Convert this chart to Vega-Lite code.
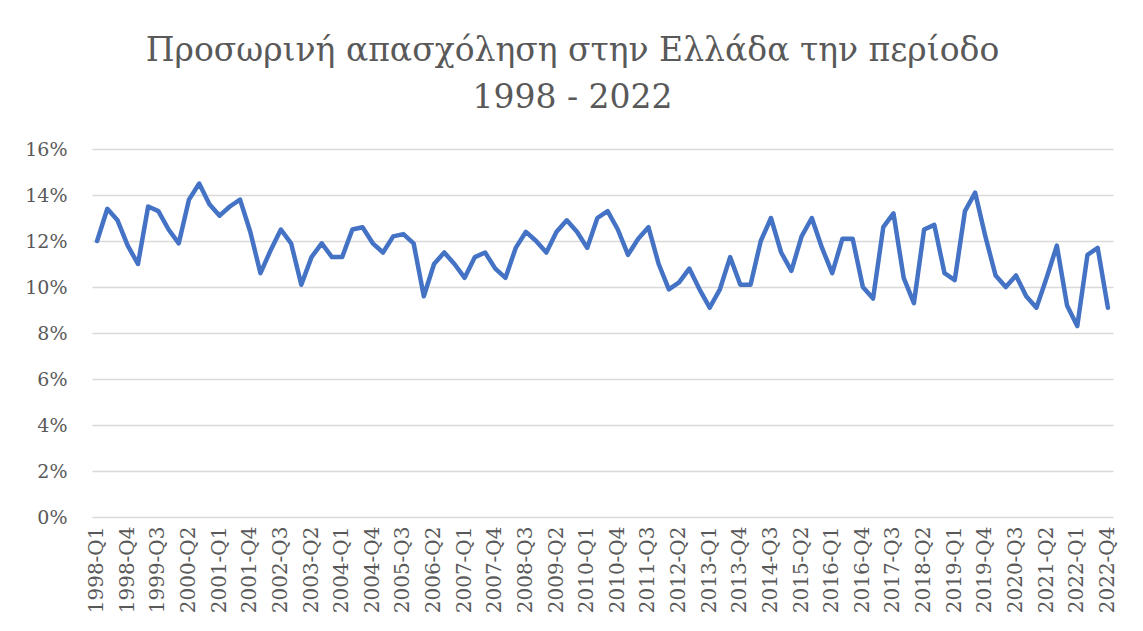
{
  "$schema": "https://vega.github.io/schema/vega-lite/v6.json",
  "width": 1021,
  "height": 368,
  "autosize": {"type": "none"},
  "padding": {"left": 92, "top": 149, "right": 30, "bottom": 114},
  "background": "white",
  "title": {
    "text": ["Προσωρινή απασχόληση στην Ελλάδα την περίοδο", "1998 - 2022"],
    "font": "DejaVu Serif",
    "fontSize": 33,
    "fontWeight": "normal",
    "color": "#595959",
    "lineHeight": 47,
    "anchor": "middle",
    "frame": "group",
    "dx": -30,
    "offset": 25
  },
  "config": {
    "view": {"stroke": null},
    "axis": {
      "labelFont": "DejaVu Serif",
      "labelColor": "#595959",
      "gridColor": "#d9d9d9",
      "gridWidth": 1.3,
      "domain": false,
      "ticks": false
    },
    "axisX": {"labelFontSize": 20, "labelLimit": 300}
  },
  "data": {
    "values": [
      {"q": "1998-Q1", "v": 0.120}, {"q": "1998-Q2", "v": 0.134}, {"q": "1998-Q3", "v": 0.129}, {"q": "1998-Q4", "v": 0.118},
      {"q": "1999-Q1", "v": 0.110}, {"q": "1999-Q2", "v": 0.135}, {"q": "1999-Q3", "v": 0.133}, {"q": "1999-Q4", "v": 0.125},
      {"q": "2000-Q1", "v": 0.119}, {"q": "2000-Q2", "v": 0.138}, {"q": "2000-Q3", "v": 0.145}, {"q": "2000-Q4", "v": 0.136},
      {"q": "2001-Q1", "v": 0.131}, {"q": "2001-Q2", "v": 0.135}, {"q": "2001-Q3", "v": 0.138}, {"q": "2001-Q4", "v": 0.124},
      {"q": "2002-Q1", "v": 0.106}, {"q": "2002-Q2", "v": 0.116}, {"q": "2002-Q3", "v": 0.125}, {"q": "2002-Q4", "v": 0.119},
      {"q": "2003-Q1", "v": 0.101}, {"q": "2003-Q2", "v": 0.113}, {"q": "2003-Q3", "v": 0.119}, {"q": "2003-Q4", "v": 0.113},
      {"q": "2004-Q1", "v": 0.113}, {"q": "2004-Q2", "v": 0.125}, {"q": "2004-Q3", "v": 0.126}, {"q": "2004-Q4", "v": 0.119},
      {"q": "2005-Q1", "v": 0.115}, {"q": "2005-Q2", "v": 0.122}, {"q": "2005-Q3", "v": 0.123}, {"q": "2005-Q4", "v": 0.119},
      {"q": "2006-Q1", "v": 0.096}, {"q": "2006-Q2", "v": 0.110}, {"q": "2006-Q3", "v": 0.115}, {"q": "2006-Q4", "v": 0.110},
      {"q": "2007-Q1", "v": 0.104}, {"q": "2007-Q2", "v": 0.113}, {"q": "2007-Q3", "v": 0.115}, {"q": "2007-Q4", "v": 0.108},
      {"q": "2008-Q1", "v": 0.104}, {"q": "2008-Q2", "v": 0.117}, {"q": "2008-Q3", "v": 0.124}, {"q": "2008-Q4", "v": 0.120},
      {"q": "2009-Q1", "v": 0.115}, {"q": "2009-Q2", "v": 0.124}, {"q": "2009-Q3", "v": 0.129}, {"q": "2009-Q4", "v": 0.124},
      {"q": "2010-Q1", "v": 0.117}, {"q": "2010-Q2", "v": 0.130}, {"q": "2010-Q3", "v": 0.133}, {"q": "2010-Q4", "v": 0.125},
      {"q": "2011-Q1", "v": 0.114}, {"q": "2011-Q2", "v": 0.121}, {"q": "2011-Q3", "v": 0.126}, {"q": "2011-Q4", "v": 0.110},
      {"q": "2012-Q1", "v": 0.099}, {"q": "2012-Q2", "v": 0.102}, {"q": "2012-Q3", "v": 0.108}, {"q": "2012-Q4", "v": 0.099},
      {"q": "2013-Q1", "v": 0.091}, {"q": "2013-Q2", "v": 0.099}, {"q": "2013-Q3", "v": 0.113}, {"q": "2013-Q4", "v": 0.101},
      {"q": "2014-Q1", "v": 0.101}, {"q": "2014-Q2", "v": 0.120}, {"q": "2014-Q3", "v": 0.130}, {"q": "2014-Q4", "v": 0.115},
      {"q": "2015-Q1", "v": 0.107}, {"q": "2015-Q2", "v": 0.122}, {"q": "2015-Q3", "v": 0.130}, {"q": "2015-Q4", "v": 0.117},
      {"q": "2016-Q1", "v": 0.106}, {"q": "2016-Q2", "v": 0.121}, {"q": "2016-Q3", "v": 0.121}, {"q": "2016-Q4", "v": 0.100},
      {"q": "2017-Q1", "v": 0.095}, {"q": "2017-Q2", "v": 0.126}, {"q": "2017-Q3", "v": 0.132}, {"q": "2017-Q4", "v": 0.104},
      {"q": "2018-Q1", "v": 0.093}, {"q": "2018-Q2", "v": 0.125}, {"q": "2018-Q3", "v": 0.127}, {"q": "2018-Q4", "v": 0.106},
      {"q": "2019-Q1", "v": 0.103}, {"q": "2019-Q2", "v": 0.133}, {"q": "2019-Q3", "v": 0.141}, {"q": "2019-Q4", "v": 0.122},
      {"q": "2020-Q1", "v": 0.105}, {"q": "2020-Q2", "v": 0.100}, {"q": "2020-Q3", "v": 0.105}, {"q": "2020-Q4", "v": 0.096},
      {"q": "2021-Q1", "v": 0.091}, {"q": "2021-Q2", "v": 0.104}, {"q": "2021-Q3", "v": 0.118}, {"q": "2021-Q4", "v": 0.092},
      {"q": "2022-Q1", "v": 0.083}, {"q": "2022-Q2", "v": 0.114}, {"q": "2022-Q3", "v": 0.117}, {"q": "2022-Q4", "v": 0.091}
    ]
  },
  "mark": {"type": "line", "color": "#4472C4", "strokeWidth": 4.5, "strokeJoin": "round", "strokeCap": "round"},
  "encoding": {
    "x": {
      "field": "q",
      "type": "ordinal",
      "sort": null,
      "scale": {"type": "band", "paddingInner": 0, "paddingOuter": 0},
      "axis": {
        "title": null,
        "grid": false,
        "labelAngle": -90,
        "labelPadding": 9,
        "labelAlign": "right",
        "labelBaseline": "middle",
        "labelOverlap": false,
        "labelBound": false,
        "labelFlush": false,
        "labelExpr": "((toNumber(substring(datum.label,0,4))-1998)*4 + toNumber(substring(datum.label,6,7)) - 1) % 3 == 0 ? datum.label : ''"
      }
    },
    "y": {
      "field": "v",
      "type": "quantitative",
      "scale": {"domain": [0, 0.16], "nice": false},
      "axis": {
        "title": null,
        "values": [0, 0.02, 0.04, 0.06, 0.08, 0.10, 0.12, 0.14, 0.16],
        "format": ".0%",
        "labelFontSize": 19,
        "labelPadding": 25,
        "grid": true
      }
    }
  }
}
